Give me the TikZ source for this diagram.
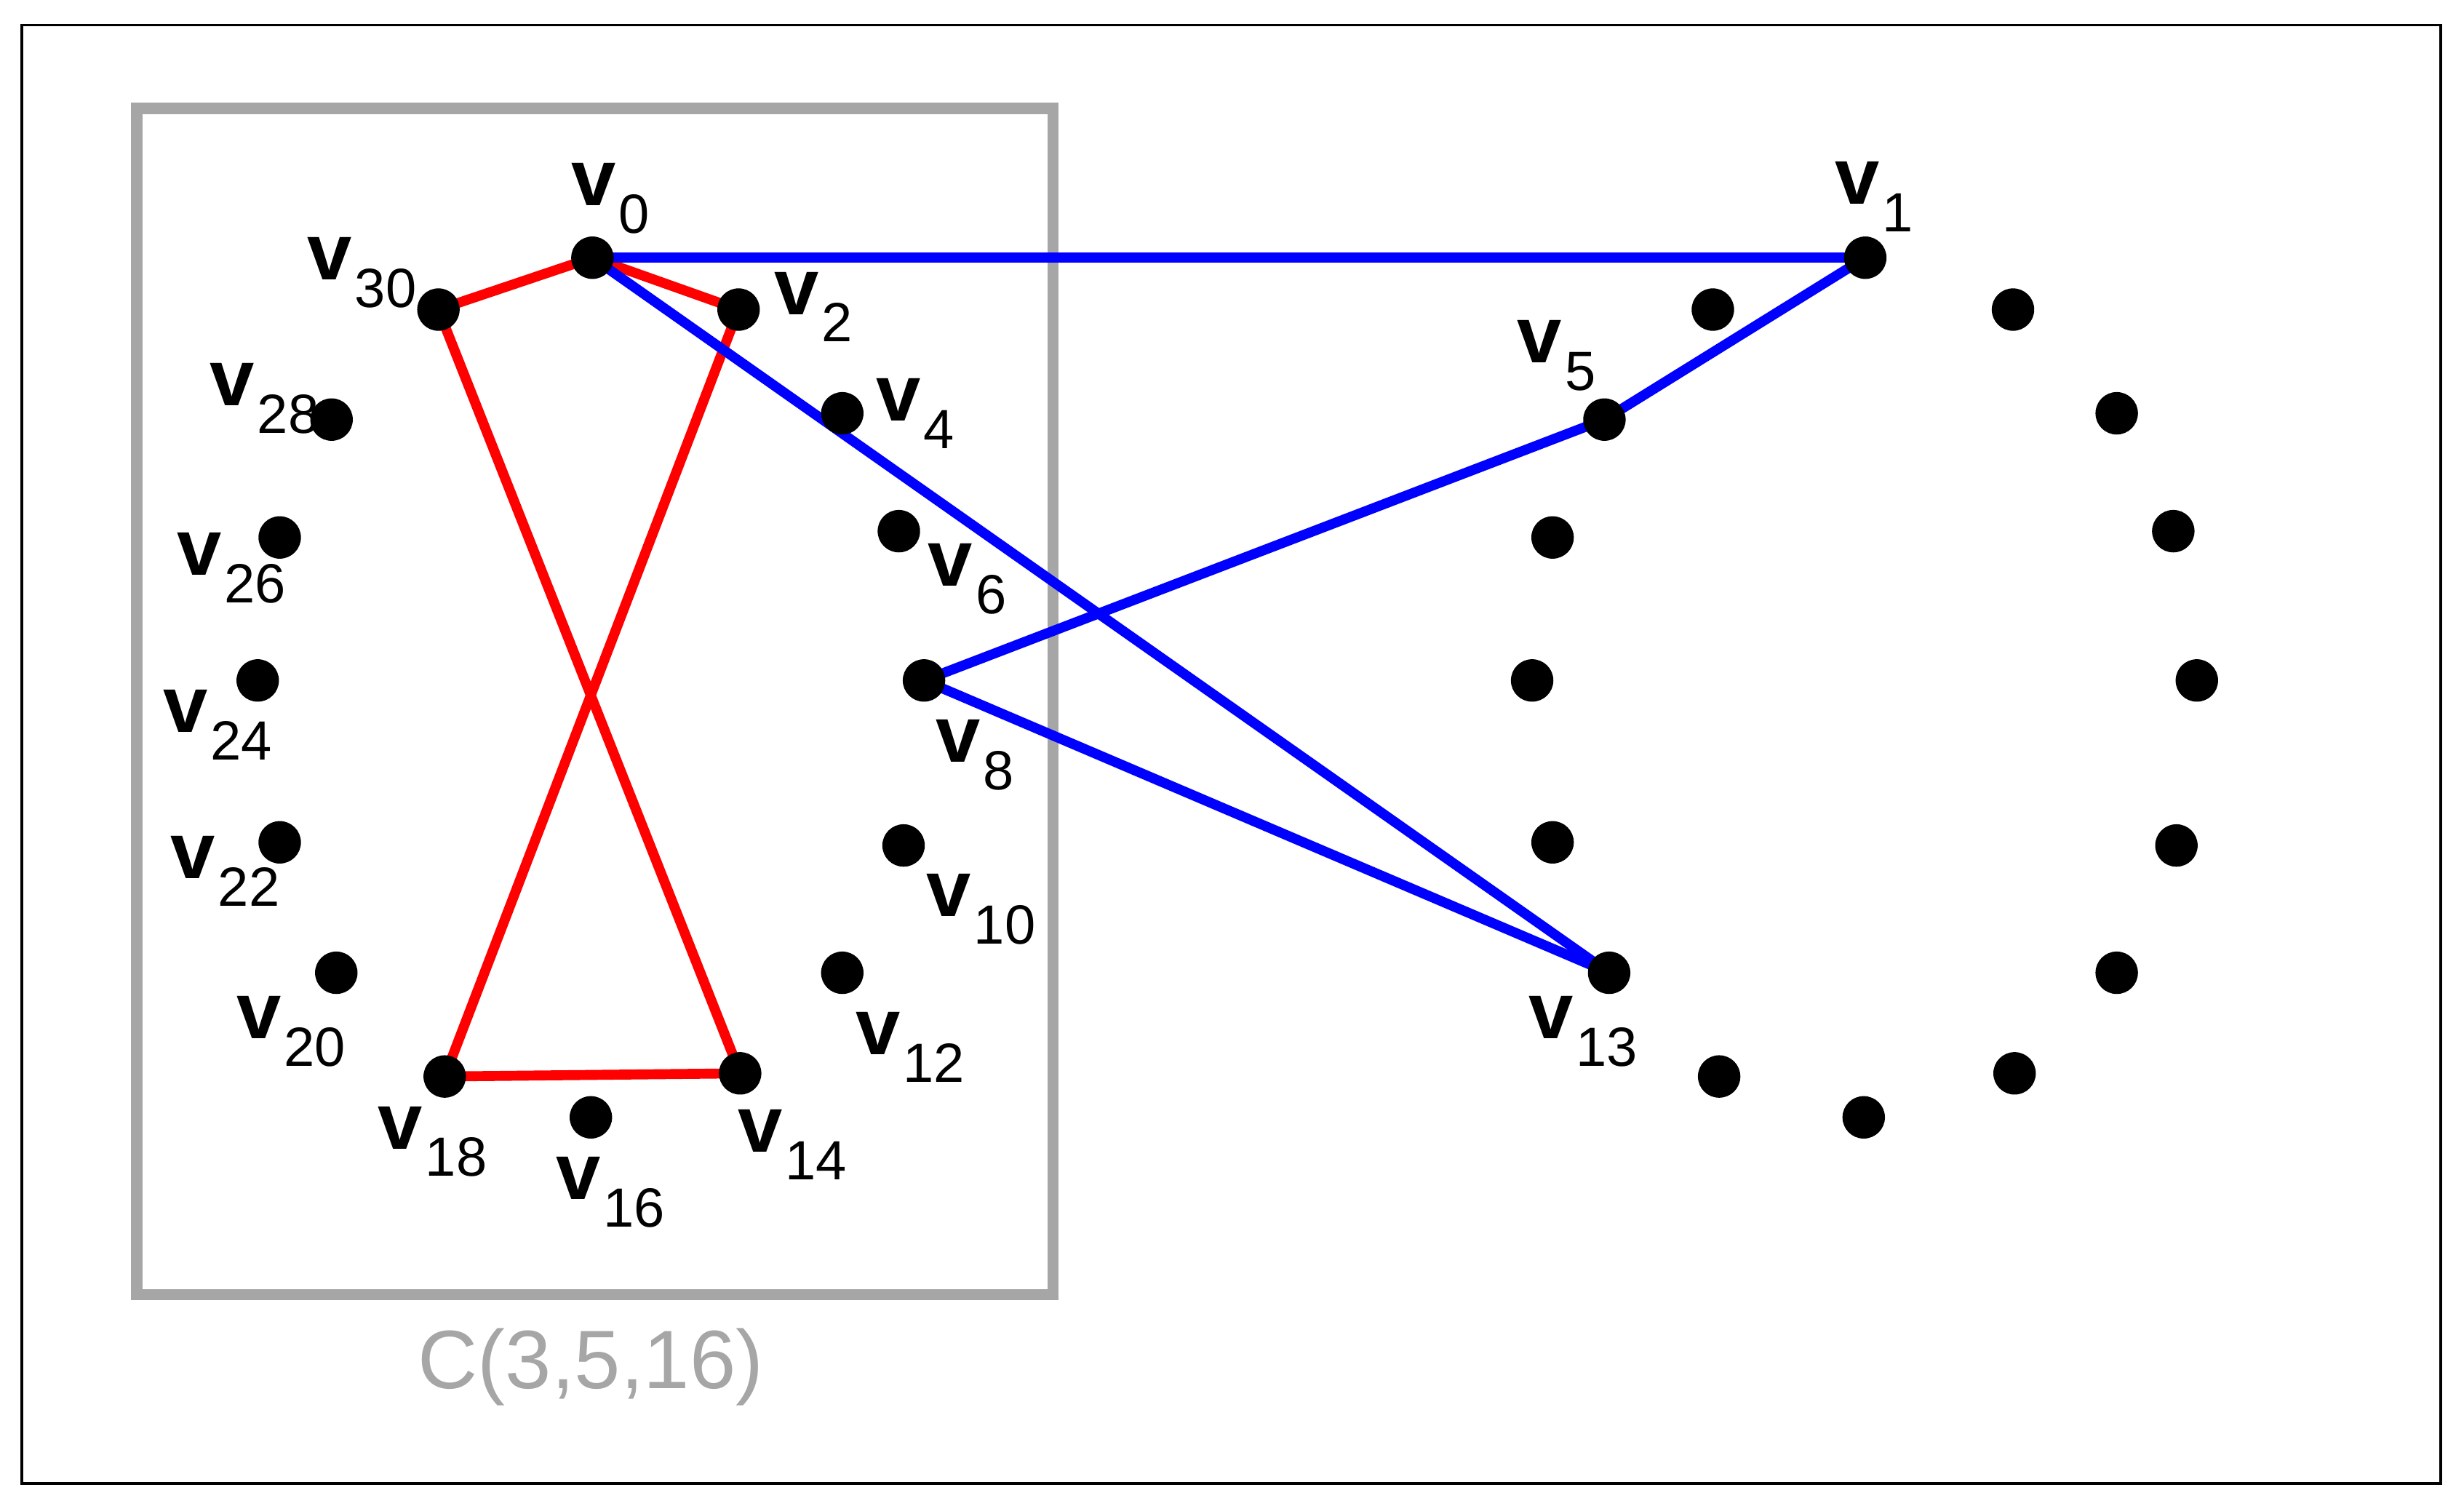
\documentclass[tikz,border=0pt]{standalone}
\usepackage{fontspec}
\setmainfont{Liberation Sans}
\begin{document}
\begin{tikzpicture}[x=0.01cm,y=-0.01cm,
  dot/.style={circle,fill=black,inner sep=0pt,minimum size=0.27cm},
  lab/.style={inner sep=0pt,anchor=base west,font=\fontsize{14.5}{14}\selectfont},
  rededge/.style={red,line width=1.8pt},
  blueedge/.style={blue,line width=1.8pt}]
\newcommand\vv[1]{\textbf{v}\hspace{0.5pt}\raisebox{-5pt}{\fontsize{10}{10}\selectfont #1}}
\useasboundingbox (0,0) rectangle (1568,958);
\draw[black,line width=0.5pt] (14,16) rectangle (1553,944);
\draw[gray!70,line width=2pt] (87,69) rectangle (670,824);
\node[text=gray!70,font=\fontsize{15}{15}\selectfont] (cl) at (376,870) {C(3,5,16)};
% left cycle
\foreach \n/\x/\y in {0/377/164,30/279/197,2/470/197,28/211/267,4/536/263,26/178/342,6/572/338,24/164/433,8/588/433,22/178/536,10/575/538,20/214/619,12/536/619,18/283/685,14/471/683,16/376/711}
  \coordinate (v\n) at (\x,\y);
% right cycle
\foreach \n/\x/\y in {1/1187/164,3/1090/197,31/1281/197,5/1021/267,29/1347/263,7/988/342,27/1383/338,9/975/433,25/1398/433,11/988/536,23/1385/538,13/1024/619,21/1347/619,15/1094/685,19/1282/683,17/1186/711}
  \coordinate (v\n) at (\x,\y);
\draw[rededge] (v30)--(v0)--(v2);
\draw[rededge] (v30)--(v14);
\draw[rededge] (v2)--(v18);
\draw[rededge] (v18)--(v14);
\draw[blueedge] (v0)--(v1);
\draw[blueedge] (v1)--(v5);
\draw[blueedge] (v5)--(v8);
\draw[blueedge] (v8)--(v13);
\draw[blueedge] (v0)--(v13);
\foreach \n in {0,...,31} \node[dot] (d\n) at (v\n) {};
% labels
\foreach \n/\x/\y in {0/363/131,30/195/178,2/492/200,28/133/258,4/557/268,26/112/366,6/590/373,24/103/466,8/595/485,22/108/559,10/589/583,20/150/661,12/544/671,18/240/731,14/469/733,16/353/763,1/1167/130,5/965/231,13/972/661}
  \node[lab] (l\n) at (\x,\y) {\vv{\n}};
\end{tikzpicture}
\end{document}
